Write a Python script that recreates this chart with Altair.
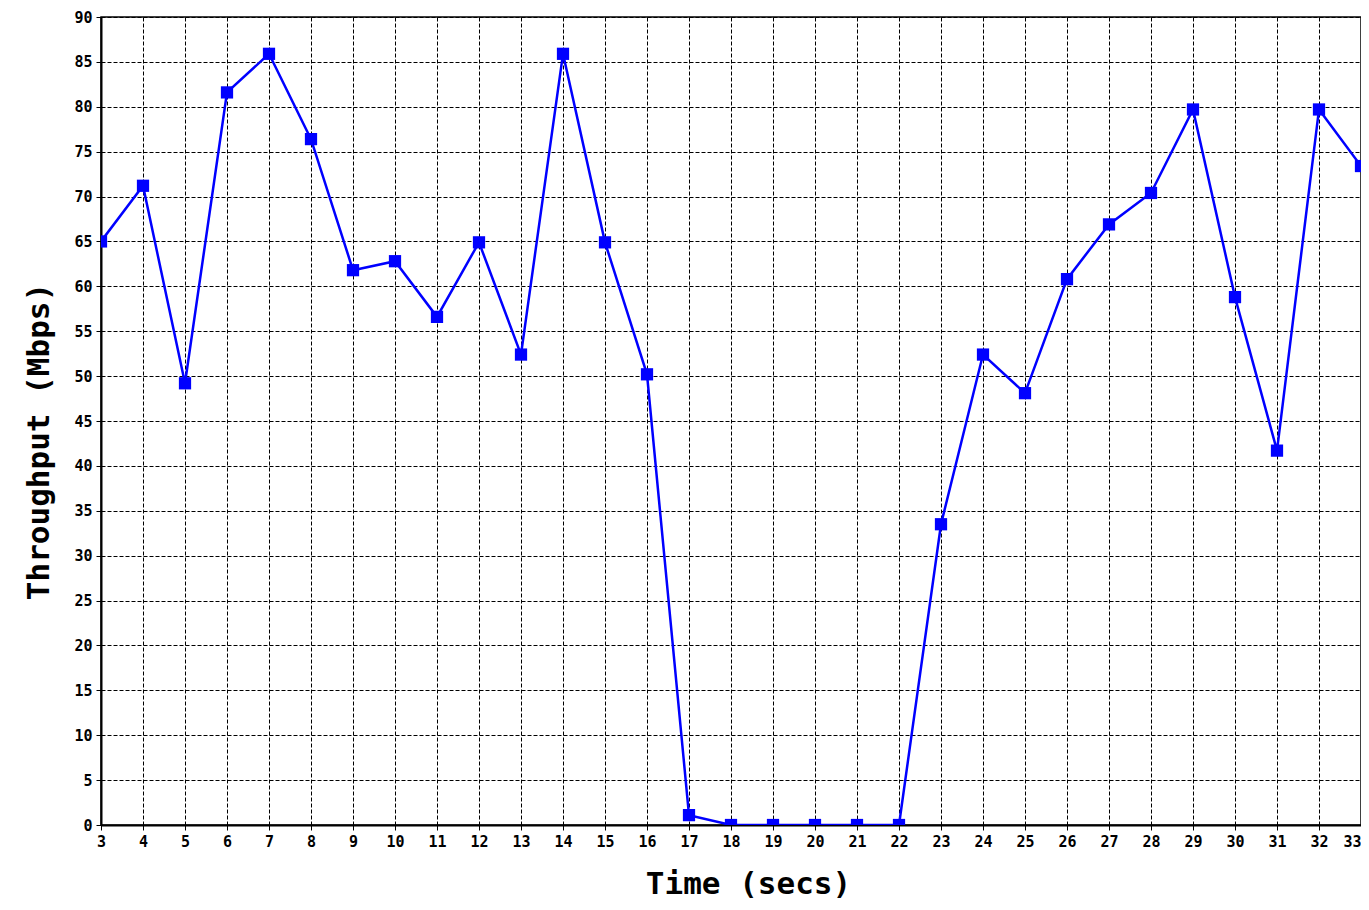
import altair as alt
import pandas as pd

time_secs = list(range(3, 34))
throughput = [65.0, 71.2, 49.2, 81.6, 85.9, 76.4, 61.8, 62.8, 56.6, 64.9,
              52.4, 85.9, 64.9, 50.2, 1.1, 0.0, 0.0, 0.0, 0.0, 0.0,
              33.5, 52.4, 48.1, 60.8, 66.9, 70.4, 79.7, 58.8, 41.7, 79.7, 73.4]

df = pd.DataFrame({"t": time_secs, "v": throughput})

FONT = "DejaVu Sans Mono"

x = alt.X("t:Q", title="Time (secs)",
          scale=alt.Scale(domain=[3, 33], nice=False, zero=False),
          axis=alt.Axis(values=time_secs, format="d", labelOverlap=False,
                        labelAlign={"expr": "datum.value == 33 ? 'right' : 'center'"},
                        titleX=647, titleAlign="center"))
y = alt.Y("v:Q", title="Throughput (Mbps)",
          scale=alt.Scale(domain=[0, 90], nice=False),
          axis=alt.Axis(values=list(range(0, 91, 5)), format="d", labelOverlap=False,
                        titleY=424, titleAlign="center"))

line = alt.Chart(df).mark_line(color="#0000ff", strokeWidth=2.5, clip=True).encode(x=x, y=y)
pts = alt.Chart(df).mark_point(shape="square", filled=True, color="#0000ff",
                               size=150, opacity=1, clip=True).encode(x=x, y=y)

chart = (line + pts).properties(
    width=1260, height=808,
    autosize=alt.AutoSizeParams(type="none"),
    padding={"left": 93, "top": 9, "right": 0, "bottom": 76},
    background="white",
).configure_view(
    stroke="black", strokeWidth=1.5, fill="white"
).configure_axis(
    grid=True, gridColor="black", gridDash=[4, 2], gridWidth=1, gridOpacity=1,
    domainColor="black", domainWidth=2,
    tickColor="black", tickSize=5, tickWidth=1,
    labelFont=FONT, labelFontWeight="bold", labelFontSize=15, labelColor="black",
    titleFont=FONT, titleFontWeight="bold", titleFontSize=31, titleColor="black",
    labelPadding=4,
).configure_axisX(
    titlePadding=20, labelFlush=False
).configure_axisY(
    titlePadding=18, labelFlush=False
)

chart.save("out.html", embed_options={"renderer": "svg", "actions": False})
